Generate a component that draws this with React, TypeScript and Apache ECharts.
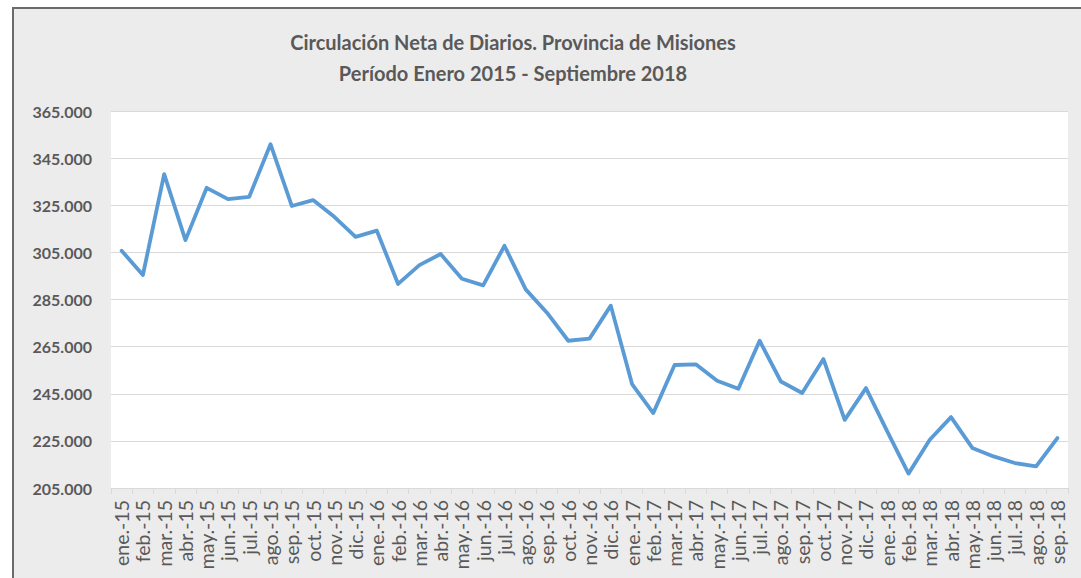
import React, { useEffect, useRef } from "react";
import * as echarts from "echarts";

const categories = [
  "ene.-15","feb.-15","mar.-15","abr.-15","may.-15","jun.-15","jul.-15","ago.-15","sep.-15","oct.-15","nov.-15","dic.-15",
  "ene.-16","feb.-16","mar.-16","abr.-16","may.-16","jun.-16","jul.-16","ago.-16","sep.-16","oct.-16","nov.-16","dic.-16",
  "ene.-17","feb.-17","mar.-17","abr.-17","may.-17","jun.-17","jul.-17","ago.-17","sep.-17","oct.-17","nov.-17","dic.-17",
  "ene.-18","feb.-18","mar.-18","abr.-18","may.-18","jun.-18","jul.-18","ago.-18","sep.-18",
];

const circulacion = [
  305700, 295400, 338200, 310200, 332400, 327600, 328600, 350900, 324700, 327200, 320100, 311600,
  314200, 291600, 299600, 304300, 293800, 291000, 307800, 289300, 279400, 267500, 268400, 282400,
  249100, 236800, 257200, 257500, 250500, 247100, 267500, 250200, 245300, 259700, 233900, 247400,
  229000, 211100, 225500, 235100, 222000, 218400, 215600, 214200, 226200,
];

const titleLines = [
  "Circulación Neta de Diarios. Provincia de Misiones",
  "Período Enero 2015 - Septiembre 2018",
];

const yMin = 205000;
const yMax = 365000;
const yInterval = 20000;

const fmt = (v: number) => String(Math.round(v)).replace(/\B(?=(\d{3})+(?!\d))/g, ".");

export default function App() {
  const ref = useRef<HTMLDivElement>(null);
  useEffect(() => {
    if (!ref.current) return;
    const chart = echarts.init(ref.current, null, { renderer: "svg" });
    chart.setOption({
      animation: false,
      backgroundColor: "transparent",
      graphic: [
        {
          type: "text",
          x: 513,
          y: 42,
          style: {
            text: titleLines[0],
            fill: "#595959",
            font: "bold 20px Lato",
            textAlign: "center",
            textVerticalAlign: "middle",
          },
        },
        {
          type: "text",
          x: 513,
          y: 73,
          style: {
            text: titleLines[1],
            fill: "#595959",
            font: "bold 20px Lato",
            textAlign: "center",
            textVerticalAlign: "middle",
          },
        },
      ],
      grid: {
        left: 111,
        right: 13,
        top: 111,
        bottom: 90,
        show: true,
        backgroundColor: "#ffffff",
        borderWidth: 0,
      },
      xAxis: {
        type: "category",
        data: categories,
        boundaryGap: true,
        axisLine: { show: true, lineStyle: { color: "#d9d9d9", width: 1 } },
        axisTick: { show: true, length: 6, lineStyle: { color: "#d9d9d9" } },
        axisLabel: {
          interval: 0,
          rotate: 90,
          margin: 12,
          color: "#595959",
          fontFamily: "Lato",
          fontSize: 19.5,
        },
        splitLine: { show: false },
      },
      yAxis: {
        type: "value",
        min: yMin,
        max: yMax,
        interval: yInterval,
        axisLine: { show: false },
        axisTick: { show: false },
        axisLabel: {
          margin: 19,
          color: "#595959",
          fontFamily: "Lato",
          fontWeight: "bold",
          fontSize: 16,
          formatter: (v: number) => fmt(v),
        },
        splitLine: { show: true, lineStyle: { color: "#d9d9d9", width: 1 } },
      },
      series: [
        {
          type: "line",
          data: circulacion,
          showSymbol: false,
          symbol: "none",
          lineStyle: { color: "#5b9bd5", width: 3.8, join: "round", cap: "round" },
          itemStyle: { color: "#5b9bd5" },
        },
      ],
    });
    return () => chart.dispose();
  }, []);

  return (
    <div style={{ position: "absolute", left: 0, top: 0, width: 1081, height: 578, overflow: "hidden", background: "#ffffff" }}>
      <div
        style={{
          position: "absolute",
          left: 12,
          top: 7,
          width: 1100,
          height: 600,
          background: "#ececec",
          borderLeft: "2px solid #6b6b6b",
          borderTop: "2px solid #6b6b6b",
        }}
      />
      <div ref={ref} style={{ position: "absolute", left: 0, top: 0, width: 1081, height: 578 }} />
    </div>
  );
}
